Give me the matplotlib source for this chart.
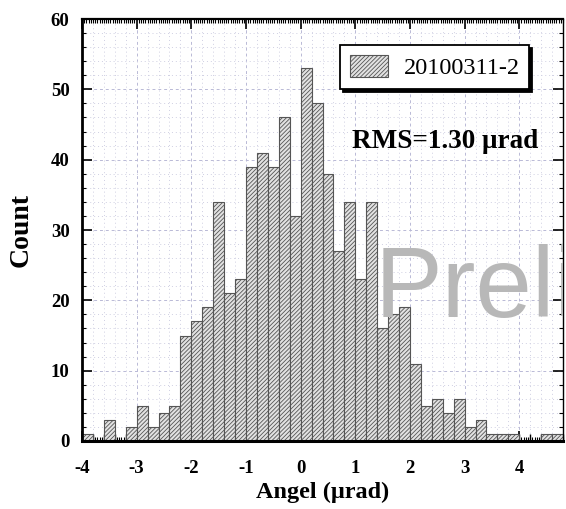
import numpy as np
import matplotlib
matplotlib.use("Agg")
import matplotlib.pyplot as plt
from matplotlib.patches import Rectangle
from matplotlib.legend_handler import HandlerPatch
from matplotlib.ticker import MultipleLocator, NullFormatter

# histogram of angle residuals, 0.2 urad bins
bin_edges = np.round(np.arange(-4.0, 4.81, 0.2), 1)
counts = [1, 0, 3, 0, 2, 5, 2, 4, 5, 15,
          17, 19, 34, 21, 23, 39, 41, 39, 46, 32,
          53, 48, 38, 27, 34, 23, 34, 16, 18, 19,
          11, 5, 6, 4, 6, 2, 3, 1, 1, 1,
          0, 0, 1, 1]
run_label = "20100311-2"
rms_text = "RMS=1.30 \u03bcrad"
x_ticks = [-4, -3, -2, -1, 0, 1, 2, 3, 4]
y_ticks = [0, 10, 20, 30, 40, 50, 60]

plt.rcParams["hatch.linewidth"] = 0.6
serif = ["Liberation Serif", "DejaVu Serif"]

fig = plt.figure(figsize=(5.66, 5.09), dpi=100)
ax = fig.add_axes([0.1449, 0.1336, 0.8498, 0.829])

ax.bar(bin_edges[:-1], counts, width=0.2, align="edge",
       color="#e2e2e2", edgecolor="#555555", hatch="////////",
       linewidth=0.8, label=run_label, zorder=2)

ax.set_xlim(-4, 4.8)
ax.set_ylim(0, 60)

# grid: dashed at majors, dotted in between
for xv in np.arange(-4, 4.81, 0.2):
    major = abs(xv - round(xv)) < 1e-6
    ax.axvline(xv, color="#b9b9d6" if major else "#cfcfe2",
               lw=0.7, ls=(0, (3, 3)) if major else (0, (1, 3)), zorder=0)
for yv in range(2, 60, 2):
    major = yv % 10 == 0
    ax.axhline(yv, color="#b9b9d6" if major else "#cfcfe2",
               lw=0.7, ls=(0, (3, 3)) if major else (0, (1, 3)), zorder=0)

ax.set_xticks(x_ticks)
ax.set_xticklabels([str(v) for v in x_ticks])
ax.set_yticks(y_ticks)
ax.xaxis.set_minor_locator(MultipleLocator(0.04))
ax.yaxis.set_minor_locator(MultipleLocator(2))
ax.tick_params(which="both", direction="in", top=True, right=True,
               colors="black")
ax.tick_params(which="major", length=7, width=1.2)
ax.tick_params(which="minor", length=3, width=0.8)
ax.tick_params(axis="x", which="major", pad=14)
ax.tick_params(axis="y", which="major", pad=9)

# medium ticks every bin on the bottom
sec = ax.secondary_xaxis("bottom")
sec.set_xticks(np.arange(-4, 4.81, 0.2))
sec.xaxis.set_major_formatter(NullFormatter())
sec.tick_params(direction="in", length=5, width=1.0)
sec.spines["bottom"].set_visible(False)

for lab in ax.get_xticklabels() + ax.get_yticklabels():
    lab.set_family(serif)
    lab.set_fontweight("bold")
    lab.set_fontsize(13.5)

ax.spines["left"].set_linewidth(2.0)
ax.spines["bottom"].set_linewidth(2.2)
ax.spines["top"].set_linewidth(1.6)
ax.spines["right"].set_linewidth(1.0)

ax.set_xlabel("Angel (\u03bcrad)", family=serif, fontweight="bold",
              fontsize=17.5, labelpad=3)
ax.set_ylabel("Count", family=serif, fontweight="bold", fontsize=20,
              labelpad=12)


def small_square(legend, orig_handle, xdescent, ydescent, width, height,
                 fontsize):
    w, h = 16.5, 13.7
    return Rectangle((width - w - xdescent, -ydescent + (height - h) / 2),
                     w, h)


leg = ax.legend(loc="upper right", bbox_to_anchor=(0.93, 0.938),
                borderaxespad=0, fancybox=False, framealpha=1,
                edgecolor="black", shadow={"color": "black", "alpha": 1},
                prop={"family": serif, "size": 17.5},
                handlelength=1.55, handleheight=1.0, borderpad=0.4,
                handletextpad=0.65,
                handler_map={Rectangle: HandlerPatch(patch_func=small_square)})
leg.get_frame().set_linewidth(1.3)

ax.text(0.561, 0.694, rms_text, transform=ax.transAxes, family=serif,
        fontweight="bold", fontsize=19.5, va="baseline", ha="left", zorder=5)

# watermark, clipped by the plot frame
wm = ax.text((375 - 82) / 481, (441 - 317) / 422, "Preliminary",
             transform=ax.transAxes, family="Liberation Sans",
             fontsize=73, color="#b8b8b8", va="baseline", ha="left",
             zorder=10, clip_on=True)

fig.savefig("out.png", dpi=100)
